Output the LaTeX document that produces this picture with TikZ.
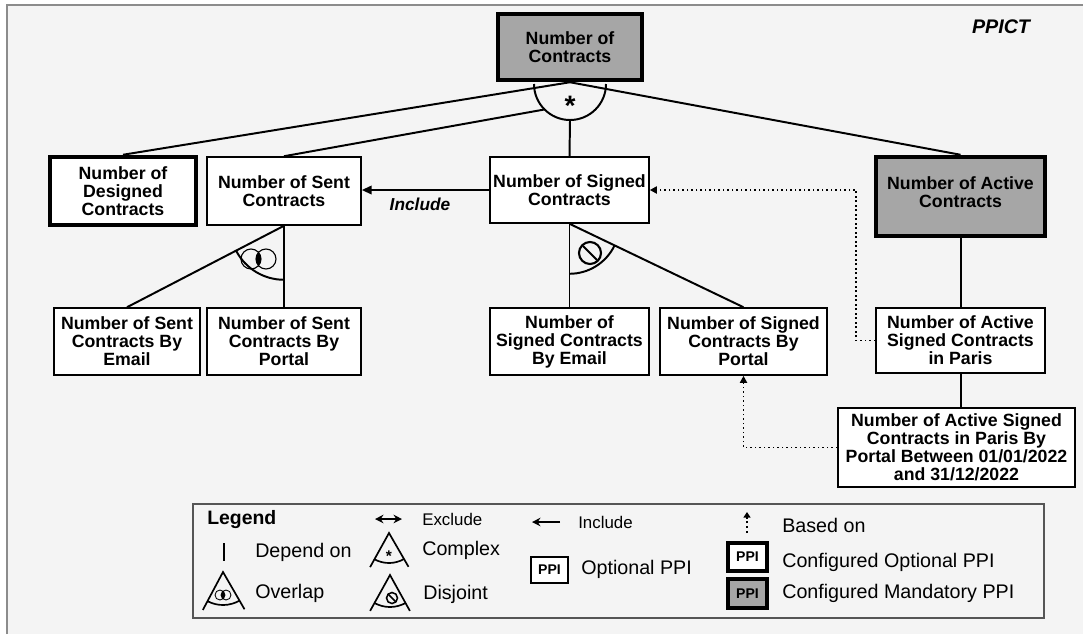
\documentclass[tikz,border=0pt]{standalone}
\usepackage{fontspec}
\setmainfont{Liberation Sans}
\usetikzlibrary{arrows.meta,calc}
\definecolor{bgc}{HTML}{F4F4F4}
\definecolor{ppigray}{HTML}{A6A6A6}
\definecolor{framegray}{HTML}{8C8C8C}
\definecolor{leggray}{HTML}{555555}
\tikzset{
  ppi/.style={draw, fill=white, line width=1.1pt, align=center, inner sep=0pt,
    font=\bfseries\fontsize{12.6}{12.8}\selectfont},
  cfgopt/.style={ppi, line width=3.2pt},
  cfgman/.style={cfgopt, fill=ppigray},
  sz/.style 2 args={minimum width=#1*0.025cm, minimum height=#2*0.025cm},
  link/.style={line width=1.4pt},
  basedon/.style={dotted, line width=1.2pt, -{Triangle[length=5pt,width=5pt]}},
  incl/.style={line width=1.4pt, -{Triangle[length=7pt,width=6pt]}},
  legtxt/.style={anchor=west, inner sep=0pt, font=\fontsize{14}{16}\selectfont},
  legsmall/.style={anchor=west, inner sep=0pt, font=\fontsize{12}{14}\selectfont},
  legppi/.style={ppi, font=\bfseries\fontsize{10}{11}\selectfont},
}

\begin{document}
\begin{tikzpicture}[x=0.025cm, y=-0.025cm]
    \useasboundingbox (0,0) rectangle (1083,634);
    \fill[white] (0,0) rectangle (1083,634);
    \fill[bgc] (7,5) rectangle (1083,634);
    \draw[framegray, line width=1.4pt] (7,634) -- (7,5) -- (1083,5);
    \node[font=\bfseries\itshape\fontsize{14}{16}\selectfont] (title) at (1001,27) {PPICT};

    % PPI nodes
    \node[cfgman, sz={144}{66}] (root) at (570,47) {Number of\\Contracts};
    \node[cfgopt, sz={146}{68}] (desg) at (123,191) {Number of\\Designed\\Contracts};
    \node[ppi, sz={154}{68}] (sent) at (284,191) {Number of Sent\\Contracts};
    \node[ppi, sz={159}{66}] (sign) at (569.5,190) {Number of Signed\\Contracts};
    \node[cfgman, sz={169}{79}] (actv) at (960.5,196.5) {Number of Active\\Contracts\\[-6pt]\mbox{}};
    \node[ppi, sz={146}{67}] (sentmail) at (127,341.5) {Number of Sent\\Contracts By\\Email};
    \node[ppi, sz={154}{67}] (sentport) at (284,341.5) {Number of Sent\\Contracts By\\Portal};
    \node[ppi, sz={159}{67}] (signmail) at (569.5,341.5) {Number of\\Signed Contracts\\By Email};
    \node[ppi, sz={167}{67}] (signport) at (743.5,341.5) {Number of Signed\\Contracts By\\Portal};
    \node[ppi, sz={169}{65}] (paris) at (960.5,340.5) {Number of Active\\Signed Contracts\\in Paris};
    \node[ppi, sz={237}{79}] (period) at (956.5,447.5) {Number of Active Signed\\Contracts in Paris By\\Portal Between 01/01/2022\\and 31/12/2022};

    % complex decomposition
    \coordinate (cplx) at (570,84);
    \draw[link] (root.south) -- (desg.north);
    \draw[link] (root.south) -- (actv.north);
    \draw[link] (sent.north) -- ($(cplx)+(135:36)$);
    \draw[link] ($(cplx)+(180:36)$) arc[start angle=180, end angle=0, radius=36];
    \draw[link] ($(cplx)+(90:36)$) -- (sign.north);
    \node[font=\bfseries\fontsize{20}{20}\selectfont] (star) at (570,106) {*};

    % overlap
    \draw[link] (sent.south) -- (sentport.north);
    \draw[link] (sent.south) -- (sentmail.north);
    \draw[link] ($(sent.south)+(152:54)$) arc[start angle=152, end angle=90, radius=54];
    \begin{scope}
      \clip (251,259) circle[radius=10];
      \fill (266,259) circle[radius=10];
    \end{scope}
    \draw[line width=0.8pt] (251,259) circle[radius=10] (266,259) circle[radius=10];

    % disjoint
    \draw[link] (sign.south) -- (signmail.north);
    \draw[link] (sign.south) -- (signport.north);
    \draw[link] ($(sign.south)+(90:50)$) arc[start angle=90, end angle=26, radius=50];
    \draw[line width=1.5pt] (590,253) circle[radius=11];
    \draw[line width=1.5pt] ($(590,253)+(225:10)$) -- ($(590,253)+(45:10)$);

    % include and based on
    \draw[incl] (sign.west) -- (sign.west -| sent.east);
    \node[font=\bfseries\itshape\fontsize{12.3}{14}\selectfont] (inclab) at (420,204) {Include};
    \draw[basedon] (paris.west) -- ++(-19,0) |- (sign.east);
    \draw[basedon] (period.west) -| (signport.south);
    \draw[link] (actv.south) -- (paris.north);
    \draw[link] (paris.south) -- (paris.south |- period.north);

    % legend
    \draw[leggray, fill=bgc, line width=1.6pt] (193,504) rectangle (1044,618);
    \node[anchor=west, inner sep=0pt, font=\bfseries\fontsize{13.8}{16}\selectfont] (legend) at (207,520) {Legend};
    \draw[line width=1.6pt] (224,543) -- (224,561);
    \node[legtxt] (ldep) at (255,552) {Depend on};
    % overlap icon
    \coordinate (ovl) at (223,572);
    \draw[line width=1.2pt] ($(ovl)+(118:43)$) -- (ovl) -- ($(ovl)+(60:43)$);
    \draw[line width=1.2pt] ($(ovl)+(118:33)$) arc[start angle=118, end angle=60, radius=33];
    \begin{scope}
      \clip (220,595) circle[radius=5];
      \fill (226,595) circle[radius=5];
    \end{scope}
    \draw[line width=0.6pt] (220,595) circle[radius=5] (226,595) circle[radius=5];
    \node[legtxt] (lovl) at (255,593) {Overlap};
    % exclude
    \draw[line width=1.4pt, {Stealth[length=6pt,width=6pt]}-{Stealth[length=6pt,width=6pt]}] (375,519) -- (402,519);
    \node[legsmall] (lexc) at (422,519) {Exclude};
    % complex icon
    \coordinate (cpi) at (389,533);
    \draw[line width=1.2pt] ($(cpi)+(119:39)$) -- (cpi) -- ($(cpi)+(60:39)$);
    \draw[line width=1.2pt] ($(cpi)+(119:30)$) arc[start angle=119, end angle=60, radius=30];
    \node[font=\bfseries\fontsize{11}{11}\selectfont] (lstar) at (389,556) {*};
    \node[legtxt] (lcpx) at (422,550) {Complex};
    % disjoint icon
    \coordinate (dsj) at (390,575);
    \draw[line width=1.2pt] ($(dsj)+(119:41)$) -- (dsj) -- ($(dsj)+(61:41)$);
    \draw[line width=1.2pt] ($(dsj)+(119:32)$) arc[start angle=119, end angle=61, radius=32];
    \draw[line width=1.1pt] (392,598) circle[radius=5.5];
    \draw[line width=1.1pt] ($(392,598)+(225:5)$) -- ($(392,598)+(45:5)$);
    \node[legtxt] (ldsj) at (423,594) {Disjoint};
    % include
    \draw[line width=1.4pt, -{Stealth[length=6pt,width=6pt]}] (560,522) -- (532,522);
    \node[legsmall] (linc) at (578,522) {Include};
    \node[legppi, sz={37}{26}] (lopt) at (549.5,570) {PPI};
    \node[legtxt] (lopttxt) at (581,569) {Optional PPI};
    % based on
    \draw[dotted, line width=1.4pt, -{Triangle[length=4pt,width=5pt]}] (747,533) -- (747,512);
    \node[legtxt] (lbas) at (782,525) {Based on};
    \node[legppi, line width=3pt, sz={39}{28}] (lcopt) at (747.5,557) {PPI};
    \node[legtxt] (lcopttxt) at (782,562) {Configured Optional PPI};
    \node[legppi, line width=3pt, fill=ppigray, sz={39}{29}] (lcman) at (747.5,593.5) {PPI};
    \node[legtxt] (lcmantxt) at (782,593) {Configured Mandatory PPI};
\end{tikzpicture}
\end{document}
